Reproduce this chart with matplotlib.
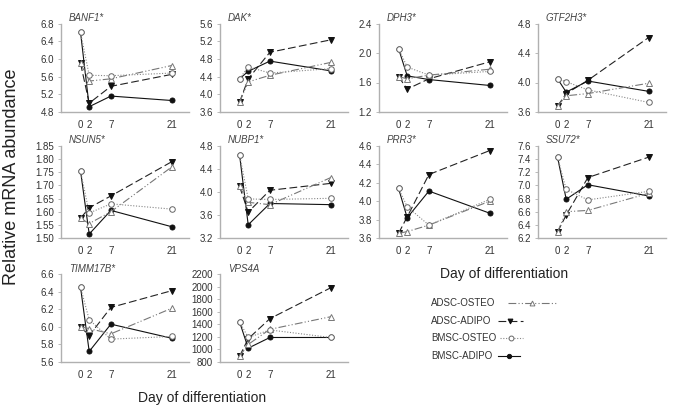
import numpy as np
import matplotlib
matplotlib.use('Agg')
import matplotlib.pyplot as plt
from matplotlib.lines import Line2D

plt.rcParams['font.family'] = ['Liberation Sans', 'DejaVu Sans']

# --- data ---
days = [0, 2, 7, 21]
genes = ['BANF1*', 'DAK*', 'DPH3*', 'GTF2H3*', 'NSUN5*',
         'NUBP1*', 'PRR3*', 'SSU72*', 'TIMM17B*', 'VPS4A']
y_min = [4.8, 3.6, 1.2, 3.6, 1.50, 3.2, 3.6, 6.2, 5.6, 800]
y_max = [6.8, 5.6, 2.4, 4.8, 1.85, 4.8, 4.6, 7.6, 6.6, 2200]
y_step = [0.4, 0.4, 0.4, 0.4, 0.05, 0.4, 0.2, 0.2, 0.2, 200]
y_dec = [1, 1, 1, 1, 2, 1, 1, 1, 1, 0]

adsc_osteo = [[5.90, 5.50, 5.55, 5.85],
              [3.82, 4.28, 4.43, 4.72],
              [1.68, 1.65, 1.70, 1.78],
              [3.68, 3.82, 3.85, 3.99],
              [1.575, 1.555, 1.600, 1.770],
              [4.10, 3.82, 3.78, 4.25],
              [3.65, 3.67, 3.74, 4.00],
              [6.29, 6.60, 6.62, 6.88],
              [6.00, 5.98, 5.92, 6.21],
              [890, 1080, 1320, 1520]]
adsc_adipo = [[5.90, 5.00, 5.38, 5.65],
              [3.82, 4.35, 4.95, 5.23],
              [1.68, 1.51, 1.65, 1.88],
              [3.68, 3.85, 4.03, 4.61],
              [1.575, 1.615, 1.660, 1.790],
              [4.10, 3.65, 4.03, 4.15],
              [3.65, 3.83, 4.29, 4.55],
              [6.29, 6.55, 7.12, 7.43],
              [6.00, 5.90, 6.22, 6.41],
              [890, 1170, 1490, 1980]]
bmsc_osteo = [[6.60, 5.63, 5.62, 5.68],
              [4.35, 4.62, 4.48, 4.58],
              [2.06, 1.81, 1.70, 1.75],
              [4.05, 4.01, 3.90, 3.73],
              [1.755, 1.595, 1.630, 1.610],
              [4.65, 3.88, 3.87, 3.89],
              [4.14, 3.94, 3.74, 4.02],
              [7.43, 6.94, 6.78, 6.91],
              [6.45, 6.08, 5.86, 5.89],
              [1440, 1190, 1310, 1190]]
bmsc_adipo = [[6.60, 4.92, 5.16, 5.06],
              [4.35, 4.52, 4.75, 4.53],
              [2.06, 1.69, 1.64, 1.56],
              [4.05, 3.87, 4.02, 3.88],
              [1.755, 1.515, 1.605, 1.543],
              [4.65, 3.43, 3.80, 3.78],
              [4.14, 3.82, 4.11, 3.87],
              [7.43, 6.79, 7.01, 6.84],
              [6.45, 5.72, 6.03, 5.87],
              [1440, 1020, 1190, 1190]]
series_names = ['ADSC-OSTEO', 'ADSC-ADIPO', 'BMSC-OSTEO', 'BMSC-ADIPO']

# --- styles ---
styles = {
    'ADSC-OSTEO': dict(color='#777777', ls=(0, (7, 2, 1, 2, 1, 2)), marker='^',
                       mfc='white', mec='#777777', ms=4),
    'ADSC-ADIPO': dict(color='#222222', ls=(0, (7, 3)), marker='v',
                       mfc='#111111', mec='#111111', ms=4),
    'BMSC-OSTEO': dict(color='#888888', ls=(0, (1, 1.5)), marker='o',
                       mfc='white', mec='#666666', ms=4),
    'BMSC-ADIPO': dict(color='#111111', ls='-', marker='o',
                       mfc='#111111', mec='#111111', ms=3.6),
}
series_data = {'ADSC-OSTEO': adsc_osteo, 'ADSC-ADIPO': adsc_adipo,
               'BMSC-OSTEO': bmsc_osteo, 'BMSC-ADIPO': bmsc_adipo}
draw_order = ['ADSC-ADIPO', 'BMSC-ADIPO', 'ADSC-OSTEO', 'BMSC-OSTEO']

W, H = 685, 407
fig = plt.figure(figsize=(W / 100, H / 100), dpi=100)

col_left = [61, 220, 379, 538]
rows = [(23.5, 112), (146, 238), (274, 362)]
ax_w = 128

for i, g in enumerate(genes):
    r, c = divmod(i, 4)
    top, bot = rows[r]
    ax = fig.add_axes([col_left[c] / W, 1 - bot / H, ax_w / W, (bot - top) / H])
    for name in draw_order:
        st = styles[name]
        ax.plot(days, series_data[name][i], color=st['color'], ls=st['ls'], lw=0.8,
                marker=st['marker'], mfc=st['mfc'], mec=st['mec'], ms=st['ms'],
                mew=0.7, clip_on=False)
    ax.set_xlim(-4.5, 25)
    ax.set_ylim(y_min[i], y_max[i])
    ax.set_yticks(np.arange(y_min[i], y_max[i] + y_step[i] / 2, y_step[i]))
    ax.yaxis.set_major_formatter(matplotlib.ticker.FormatStrFormatter('%%.%df' % y_dec[i]))
    ax.set_xticks(days)
    ax.set_xticklabels(['0', '2', '7', '21'])
    for s in ['top', 'right']:
        ax.spines[s].set_visible(False)
    for s in ['left', 'bottom']:
        ax.spines[s].set_color('#b0b0b0')
        ax.spines[s].set_linewidth(1.0)
    ax.tick_params(axis='x', length=0, pad=6, labelsize=7, labelcolor='#333333')
    ax.tick_params(axis='y', length=2, width=0.6, color='#b0b0b0', pad=3,
                   labelsize=7, labelcolor='#333333')
    ax.text(0.06, 1.06, g, transform=ax.transAxes, fontsize=7, style='italic',
            color='#444444', va='center', ha='left')

fig.text(12 / W, 1 - 177 / H, 'Relative mRNA abundance', rotation=90,
         fontsize=13, color='#222222', ha='center', va='center')
fig.text(202 / W, 1 - 398 / H, 'Day of differentiation', fontsize=10,
         color='#222222', ha='center', va='center')
fig.text(504 / W, 1 - 274 / H, 'Day of differentiation', fontsize=10,
         color='#222222', ha='center', va='center')

# --- legend ---
lax = fig.add_axes([0, 0, 1, 1])
lax.set_xlim(0, W)
lax.set_ylim(H, 0)
lax.axis('off')
leg_y = [303, 321, 338, 356]
leg_x0 = [508, 498, 500, 498]
leg_x1 = [557, 523, 523, 520]
for k, name in enumerate(series_names):
    st = styles[name]
    lax.text(431, leg_y[k], name, fontsize=7, color='#333333', va='center', ha='left')
    lax.add_line(Line2D([leg_x0[k], leg_x1[k]], [leg_y[k], leg_y[k]], color=st['color'],
                        ls=st['ls'], lw=0.8))
    lax.add_line(Line2D([(leg_x0[k] + leg_x1[k]) / 2], [leg_y[k]], marker=st['marker'],
                        mfc=st['mfc'], mec=st['mec'], ms=st['ms'] - 0.5, mew=0.7, ls='none'))

fig.savefig('out.png', dpi=100)
